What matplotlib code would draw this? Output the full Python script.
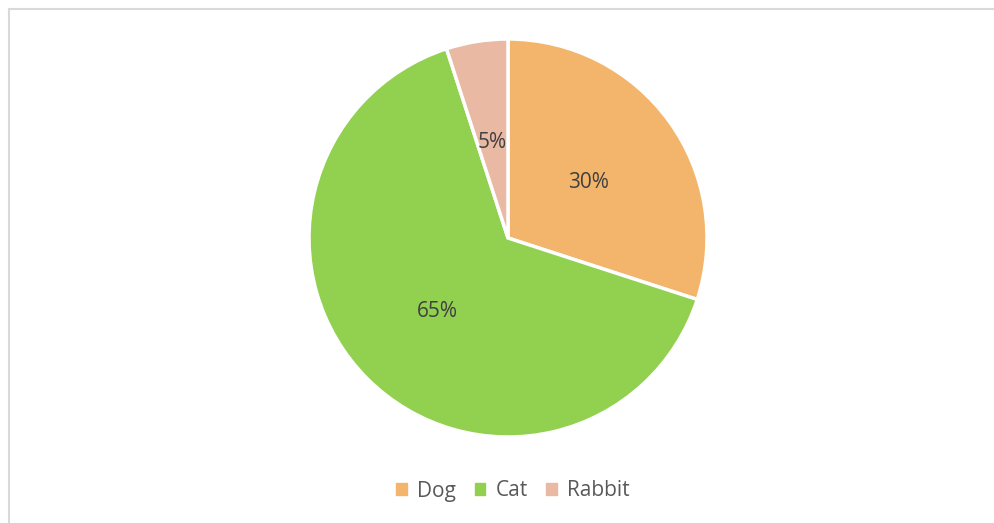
import matplotlib
matplotlib.use("Agg")
import matplotlib.pyplot as plt
from matplotlib.lines import Line2D

# pet share data
labels = ["Dog", "Cat", "Rabbit"]
shares = [30, 65, 5]
colors = ["#F2B56B", "#92D050", "#E9B9A3"]

plt.rcParams['font.family'] = ['Open Sans', 'DejaVu Sans']

W, H = 995, 523
fig = plt.figure(figsize=(W / 100, H / 100), dpi=100)

# pie centred at (508, 238) px with radius 199 px
cx, cy, r = 508, 238, 199
ax = fig.add_axes([(cx - r) / W, (H - cy - r) / H, 2 * r / W, 2 * r / H])
wedges, texts, autotexts = ax.pie(
    shares, colors=colors, startangle=90, counterclock=False,
    autopct="%d%%", pctdistance=0.5,
    wedgeprops=dict(edgecolor="white", linewidth=2.5),
    textprops=dict(color="#404040", fontsize=15),
)
for t in autotexts:
    x, y = t.get_position()
    t.set_position((x, y - 0.015))
ax.set_xlim(-1, 1)
ax.set_ylim(-1, 1)
ax.set_aspect("equal")
ax.axis("off")

# frame lines along top and left edge
fig.add_artist(Line2D([9 / W, 1], [1 - 9 / H, 1 - 9 / H], color="#D9D9D9", lw=1.5))
fig.add_artist(Line2D([9 / W, 9 / W], [0, 1 - 9 / H], color="#D9D9D9", lw=1.5))

handles = [plt.Rectangle((0, 0), 1, 1, color=c) for c in colors]
leg = fig.legend(handles, labels, loc="center", bbox_to_anchor=(513 / W, 1 - 491 / H),
                 ncol=3, frameon=False, fontsize=15, handlelength=0.5, handleheight=0.5,
                 handletextpad=0.5, columnspacing=0.9)
for t in leg.get_texts():
    t.set_color("#595959")

fig.savefig("out.png", dpi=100, facecolor="white")
